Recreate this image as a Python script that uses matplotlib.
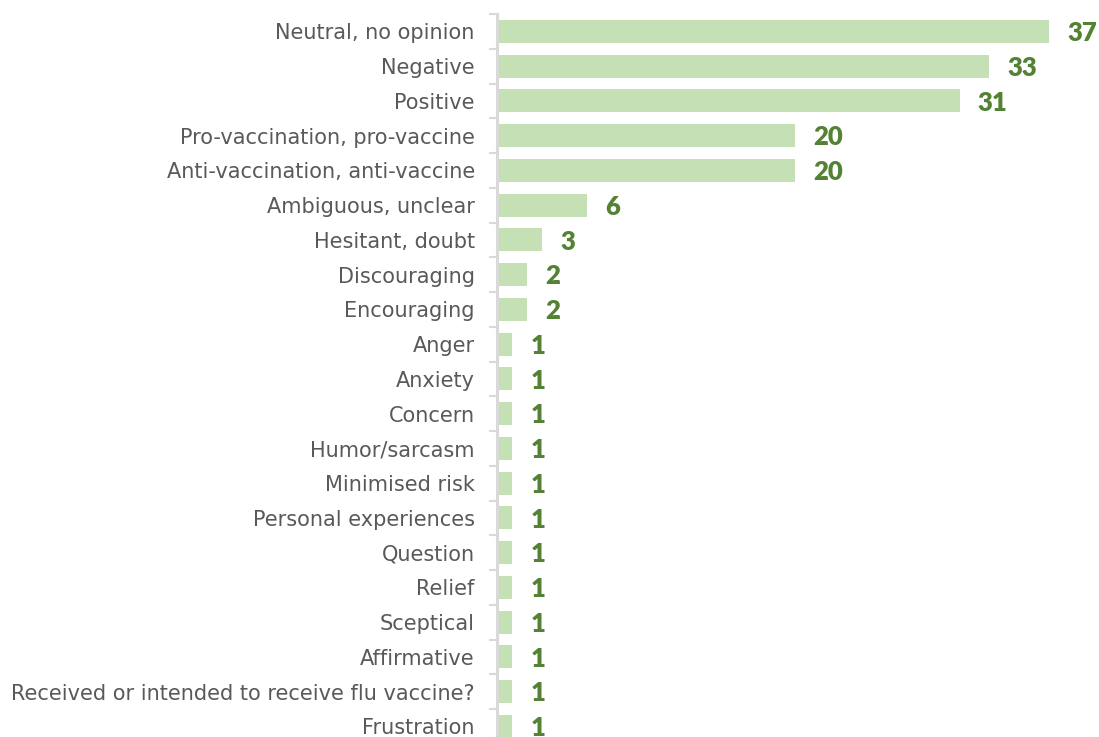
import matplotlib
matplotlib.use("Agg")
import matplotlib.pyplot as plt

categories = [
    "Neutral, no opinion", "Negative", "Positive", "Pro-vaccination, pro-vaccine",
    "Anti-vaccination, anti-vaccine", "Ambiguous, unclear", "Hesitant, doubt",
    "Discouraging", "Encouraging", "Anger", "Anxiety", "Concern", "Humor/sarcasm",
    "Minimised risk", "Personal experiences", "Question", "Relief", "Sceptical",
    "Affirmative", "Received or intended to receive flu vaccine?", "Frustration",
]
values = [37, 33, 31, 20, 20, 6, 3, 2, 2, 1, 1, 1, 1, 1, 1, 1, 1, 1, 1, 1, 1]

W, H, DPI = 1099, 737, 100
fig = plt.figure(figsize=(W / DPI, H / DPI), dpi=DPI)

px_per_unit = 14.92
xmax = 40
left_px, top_px = 497, 14
row_px = 34.75
n = len(categories)
ax_w = xmax * px_per_unit
ax_h = n * row_px
ax = fig.add_axes([left_px / W, (H - top_px - ax_h) / H, ax_w / W, ax_h / H])

y = list(range(n))
ax.barh(y, values, height=0.66, color="#C5E0B4", zorder=1)
ax.set_ylim(n - 0.5, -0.5)
ax.set_xlim(0, xmax)

for yi, v in zip(y, values):
    ax.annotate(f"{v}", xy=(v, yi), xytext=(13.2, -1.2), textcoords="offset points",
                ha="left", va="center", color="#548235", fontsize=18.5,
                fontweight="heavy", family=["Lato", "DejaVu Sans"])

ax.set_yticks(y)
ax.set_yticklabels(categories, fontsize=15, color="#595959", family="DejaVu Sans")
ax.tick_params(axis="y", which="major", length=0, pad=16)
ax.set_yticks([i - 0.5 for i in range(n + 1)], minor=True)
ax.tick_params(axis="y", which="minor", length=6, width=1.5, color="#D9D9D9")
ax.set_xticks([])

for s in ["top", "right", "bottom"]:
    ax.spines[s].set_visible(False)
ax.spines["left"].set_color("#D9D9D9")
ax.spines["left"].set_linewidth(2.2)
ax.spines["left"].set_zorder(3)

fig.savefig("out.png", dpi=DPI)
